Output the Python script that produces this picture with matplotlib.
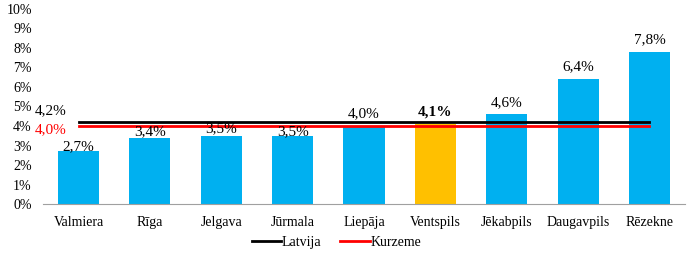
import matplotlib
matplotlib.use("Agg")
import matplotlib.pyplot as plt
import numpy as np

# dati
pilsetas = ["Valmiera", "Rīga", "Jelgava", "Jūrmala", "Liepāja", "Ventspils", "Jēkabpils", "Daugavpils", "Rēzekne"]
vertibas = [2.7, 3.4, 3.5, 3.5, 4.0, 4.1, 4.6, 6.4, 7.8]
latvija = 4.2
kurzeme = 4.0
izcelta = "Ventspils"

# etiķešu nobīde (punkti), pirmās četras ir pabīdītas uz leju kā oriģinālā
etiketes_dy = [-1.5, -0.5, 0.5, -1.5, 4, 4, 4, 4, 4]

plt.rcParams['font.family'] = ['Liberation Serif', 'DejaVu Serif']

fig = plt.figure(figsize=(6.92, 2.56), dpi=100)
fig.patch.set_facecolor('white')
ax = fig.add_axes([0.062, 0.203, 0.928, 0.762])

x = np.arange(len(pilsetas))
colors = ['#FFC000' if p == izcelta else '#00B0F0' for p in pilsetas]
ax.bar(x, vertibas, width=0.575, color=colors, zorder=2)

ax.plot(x, [latvija] * len(x), color='black', lw=2, zorder=3, label='Latvija')
ax.plot(x, [kurzeme] * len(x), color='red', lw=2, zorder=3, label='Kurzeme')

for xi, v, p, dy in zip(x, vertibas, pilsetas, etiketes_dy):
    ax.annotate(("%.1f%%" % v).replace('.', ','), (xi, v), xytext=(0, dy),
                textcoords='offset points', ha='center', va='bottom', fontsize=11,
                fontweight='bold' if p == izcelta else 'normal', zorder=4)

ax.annotate(("%.1f%%" % latvija).replace('.', ','), (x[0], latvija), xytext=(-20, 8),
            textcoords='offset points', ha='center', va='center', fontsize=11, color='black')
ax.annotate(("%.1f%%" % kurzeme).replace('.', ','), (x[0], kurzeme), xytext=(-20, -2.5),
            textcoords='offset points', ha='center', va='center', fontsize=11, color='red')

ax.set_xlim(-0.5, len(x) - 0.5)
ax.set_ylim(0, 10)
ax.set_yticks(np.arange(0, 11, 1))
ax.set_yticklabels(["%d%%" % i for i in range(11)], fontsize=10)
ax.set_xticks(x)
ax.set_xticklabels(pilsetas, fontsize=10)
ax.tick_params(axis='x', length=0, pad=8.5)
ax.tick_params(axis='y', length=0, pad=8)
for s in ['top', 'right', 'left']:
    ax.spines[s].set_visible(False)
ax.spines['bottom'].set_color('#A0A0A0')

fig.legend(loc='lower center', bbox_to_anchor=(0.486, -0.02), ncol=2, frameon=False,
           fontsize=10, handlelength=2.1, handletextpad=0.05, columnspacing=1.4)

fig.savefig("out.png", dpi=100)
